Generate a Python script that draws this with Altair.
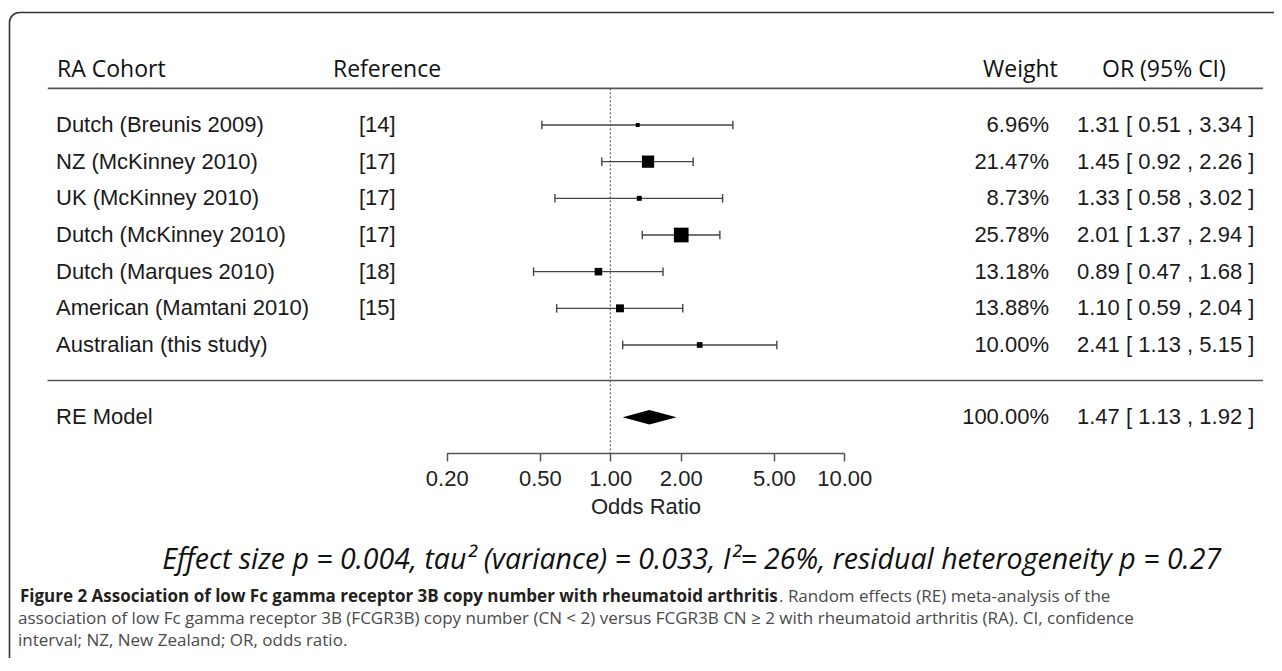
import altair as alt
import pandas as pd

# ---------------- data ----------------
cohorts = ["Dutch (Breunis 2009)", "NZ (McKinney 2010)", "UK (McKinney 2010)",
           "Dutch (McKinney 2010)", "Dutch (Marques 2010)", "American (Mamtani 2010)",
           "Australian (this study)"]
refs = ["[14]", "[17]", "[17]", "[17]", "[18]", "[15]", ""]
weights = [6.96, 21.47, 8.73, 25.78, 13.18, 13.88, 10.00]
odds = [1.31, 1.45, 1.33, 2.01, 0.89, 1.10, 2.41]
lower = [0.51, 0.92, 0.58, 1.37, 0.47, 0.59, 1.13]
upper = [3.34, 2.26, 3.02, 2.94, 1.68, 2.04, 5.15]

re_label = "RE Model"
re_weight = 100.00
re_or = 1.47
re_lower = 1.13
re_upper = 1.92

headers = ["RA Cohort", "Reference", "Weight", "OR (95% CI)"]
axis_ticks = [0.2, 0.5, 1, 2, 5, 10]
axis_title = "Odds Ratio"
stats_line = "Effect size p = 0.004, tau\u00b2 (variance) = 0.033, I\u00b2= 26%, residual heterogeneity p = 0.27"
caption_bold = "Figure 2 Association of low Fc gamma receptor 3B copy number with rheumatoid arthritis"
caption_rest = ". Random effects (RE) meta-analysis of the"
caption_lines = [
    "association of low Fc gamma receptor 3B (FCGR3B) copy number (CN < 2) versus FCGR3B CN \u2265 2 with rheumatoid arthritis (RA). CI, confidence",
    "interval; NZ, New Zealand; OR, odds ratio.",
]

# ---------------- tables ----------------
n = len(cohorts)
studies = pd.DataFrame({
    "cohort": cohorts, "ref": refs, "weight": weights,
    "or": odds, "lo": lower, "hi": upper, "row": list(range(n)),
})
studies["wlab"] = [f"{w:.2f}%" for w in weights]
studies["orlab"] = [f"{o:.2f} [ {l:.2f} , {h:.2f} ]" for o, l, h in zip(odds, lower, upper)]

RE_ROW = 7.97
SEP_ROW = 6.97
HEAD_ROW = -1.5
HLINE_ROW = -1.0
AXIS_ROW = 8.95
DIAMOND_H = 0.196
CAP_H = 0.117

re_df = pd.DataFrame({
    "cohort": [re_label], "wlab": [f"{re_weight:.2f}%"],
    "orlab": [f"{re_or:.2f} [ {re_lower:.2f} , {re_upper:.2f} ]"], "row": [RE_ROW],
})
diamond = pd.DataFrame({
    "x": [re_lower, re_or, re_upper],
    "y1": [RE_ROW, RE_ROW - DIAMOND_H, RE_ROW],
    "y2": [RE_ROW, RE_ROW + DIAMOND_H, RE_ROW],
})
head_df = pd.DataFrame({"label": headers, "row": [HEAD_ROW] * 4,
                        "xpos": [49, 325, 975, 1094]})
lines_df = pd.DataFrame({"row": [HLINE_ROW, SEP_ROW], "x1": [39.8, 39.5]})
ref_df = pd.DataFrame({"x": [1.0], "r1": [HLINE_ROW], "r2": [AXIS_ROW]})
dummy = pd.DataFrame({"a": [0]})

# ---------------- scales ----------------
xscale = alt.Scale(type="log", domain=[0.2, 10], range=[438.7, 836.3], nice=False)
yscale = alt.Scale(domain=[0, 6], range=[117, 337], nice=False, zero=False)
xaxis = alt.Axis(values=axis_ticks, format=".2f", grid=False,
                 labelFont="Liberation Sans", labelFontSize=22, labelColor="#222",
                 labelPadding=7, labelFlush=False, labelOverlap=False,
                 tickSize=8, tickColor="#555", tickWidth=1.5,
                 domainColor="#555", domainWidth=1.5,
                 title=axis_title, titleFont="Liberation Sans", titleFontSize=22,
                 titleFontWeight="normal", titleColor="#222", titlePadding=7)


def X(f):
    return alt.X(f, type="quantitative", scale=xscale, axis=xaxis)


def Y(f):
    return alt.Y(f, type="quantitative", scale=yscale, axis=None)


BODY = dict(font="Liberation Sans", fontSize=22, color="#1a1a1a", baseline="middle")
HEAD = dict(font="Open Sans", fontSize=23, color="#111", baseline="middle")
CAP_FS = 17

# ---------------- layers ----------------
border = alt.Chart(dummy).mark_rect(
    fillOpacity=0, stroke="#333", strokeWidth=1.6, cornerRadius=10
).encode(x=alt.value(1.5), x2=alt.value(1500), y=alt.value(4.5), y2=alt.value(900))

hlines = alt.Chart(lines_df).mark_rule(color="#555", strokeWidth=1.6).encode(
    x=alt.X("x1:Q", scale=None), x2=alt.value(1255), y=Y("row"))

refline = alt.Chart(ref_df).mark_rule(color="#444", strokeWidth=1, strokeDash=[2, 2]).encode(
    x=X("x"), y=Y("r1"), y2=alt.Y2("r2"))

bars = alt.Chart(studies).mark_rule(color="#444", strokeWidth=1.4).encode(
    x=X("lo"), x2=alt.X2("hi"), y=Y("row"))

caps = alt.Chart(studies).transform_fold(["lo", "hi"], as_=["end", "val"]).transform_calculate(
    c1=f"datum.row - {CAP_H}", c2=f"datum.row + {CAP_H}"
).mark_rule(color="#444", strokeWidth=1.4).encode(x=X("val"), y=Y("c1"), y2=alt.Y2("c2"))

squares = alt.Chart(studies).mark_square(color="black", opacity=1, strokeWidth=0).encode(
    x=X("or"), y=Y("row"),
    size=alt.Size("weight:Q", scale=alt.Scale(type="pow", exponent=2, domain=[0, 25.78],
                                               range=[0, 216]), legend=None))

dia = alt.Chart(diamond).mark_area(color="black", orient="vertical", opacity=1).encode(
    x=X("x"), y=Y("y1"), y2=alt.Y2("y2"))

t_cohort = alt.Chart(studies).mark_text(align="left", **BODY).encode(
    x=alt.value(48), y=Y("row"), text="cohort:N")
t_ref = alt.Chart(studies).mark_text(align="left", **BODY).encode(
    x=alt.value(351), y=Y("row"), text="ref:N")
t_w = alt.Chart(studies).mark_text(align="right", **BODY).encode(
    x=alt.value(1041), y=Y("row"), text="wlab:N")
t_or = alt.Chart(studies).mark_text(align="left", **BODY).encode(
    x=alt.value(1069), y=Y("row"), text="orlab:N")

r_cohort = alt.Chart(re_df).mark_text(align="left", **BODY).encode(
    x=alt.value(48), y=Y("row"), text="cohort:N")
r_w = alt.Chart(re_df).mark_text(align="right", **BODY).encode(
    x=alt.value(1041), y=Y("row"), text="wlab:N")
r_or = alt.Chart(re_df).mark_text(align="left", **BODY).encode(
    x=alt.value(1069), y=Y("row"), text="orlab:N")

t_head = alt.Chart(head_df).mark_text(align="left", **HEAD).encode(
    x=alt.X("xpos:Q", scale=None), y=Y("row"), text="label:N")

t_stats = alt.Chart(pd.DataFrame({"t": [stats_line]})).mark_text(
    font="Open Sans", fontStyle="italic", fontSize=28.5, color="#111",
    align="center", baseline="middle").encode(
    x=alt.value(683.7), y=alt.value(552), text="t:N")

t_cap_bold = alt.Chart(pd.DataFrame({"t": [caption_bold]})).mark_text(
    font="Open Sans", fontWeight="bold", fontSize=CAP_FS, color="#231f20",
    align="left", baseline="alphabetic").encode(
    x=alt.value(12), y=alt.value(594), text="t:N")
t_cap_rest = alt.Chart(pd.DataFrame({"t": [caption_rest]})).mark_text(
    font="Open Sans", fontSize=CAP_FS, color="#4a4a4a",
    align="left", baseline="alphabetic").encode(
    x=alt.value(771), y=alt.value(594), text="t:N")
t_cap_lines = alt.Chart(pd.DataFrame({"t": caption_lines, "yy": [616, 638]})).mark_text(
    font="Open Sans", fontSize=CAP_FS, color="#4a4a4a",
    align="left", baseline="alphabetic").encode(
    x=alt.value(10), y=alt.Y("yy:Q", scale=None), text="t:N")

chart = alt.layer(
    border, hlines, refline, bars, caps, squares, dia,
    t_cohort, t_ref, t_w, t_or, r_cohort, r_w, r_or, t_head,
    t_stats, t_cap_bold, t_cap_rest, t_cap_lines,
).properties(
    width=1266, height=445,
    padding={"left": 0, "top": 0, "right": 0, "bottom": 205},
    autosize=alt.AutoSizeParams(type="none"),
).configure_view(stroke=None)

chart.save("out.html", embed_options={"renderer": "svg", "actions": False})
